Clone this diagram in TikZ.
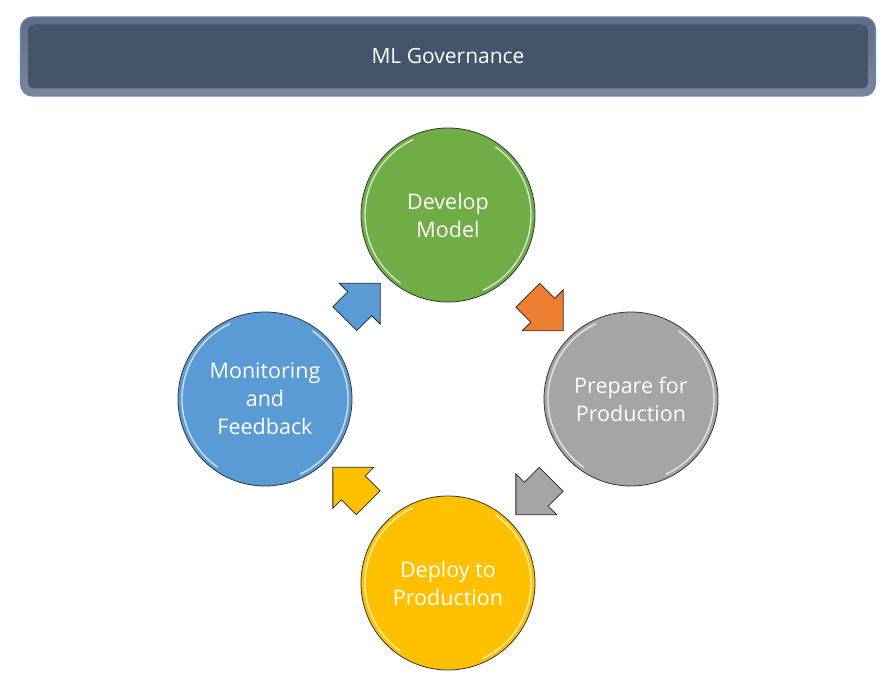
\documentclass[tikz,border=0pt]{standalone}
\usepackage{fontspec}
\setmainfont{Open Sans}
\usepackage{tikz}
\usetikzlibrary{shapes.arrows, calc, positioning}
\definecolor{bandblue}{HTML}{44546A}
\definecolor{bandedge}{HTML}{5E86C8}
\definecolor{devgreen}{HTML}{70AD47}
\definecolor{prepgray}{HTML}{A5A5A5}
\definecolor{deployyellow}{HTML}{FFC000}
\definecolor{monblue}{HTML}{5B9BD5}
\definecolor{steporange}{HTML}{ED7D31}
\tikzset{
    banner/.style={rectangle, rounded corners=12pt, draw=bandedge, line width=1.2pt, top color=bandblue!85!white, bottom color=bandblue!70!white},
    bannerin/.style={rectangle, rounded corners=6pt, fill=bandblue},
    stage/.style={circle, draw=black!80, line width=0.8pt, minimum size=174pt, inner sep=0pt, text=white, align=center, font=\fontsize{21.5}{28}\selectfont},
    cyclearrow/.style={single arrow, draw=black!85, line width=0.8pt, minimum height=50pt, inner xsep=0pt, inner ysep=16.5pt, single arrow head extend=12pt},
    gloss/.style={white, opacity=0.7, line width=1.4pt, line cap=round}
}
\begin{document}
\begin{tikzpicture}[x=1pt, y=1pt]
        \useasboundingbox (0,0) rectangle (895,689);
        % Title band
        \node (band) [banner, minimum width=855pt, minimum height=79pt] at (448, 632.5) {};
        \node (title) [bannerin, minimum width=840pt, minimum height=64pt, text=white, font=\fontsize{21}{26}\selectfont] at (448, 632.5) {ML Governance};

        % Lifecycle stages
        \node (develop) [stage, fill=devgreen] at (448, 474) {Develop\\Model};
        \node (prepare) [stage, fill=prepgray] at (631, 290) {Prepare for\\Production};
        \node (deploy) [stage, fill=deployyellow] at (448, 106) {Deploy to\\Production};
        \node (monitor) [stage, fill=monblue] at (265, 290) {Monitoring\\and\\Feedback};

        % Bevel highlights
        \draw[gloss] ([shift={(115:83)}]develop.center) arc[start angle=115, end angle=235, radius=83]
            ([shift={(-65:83)}]develop.center) arc[start angle=-65, end angle=55, radius=83];
        \draw[gloss] ([shift={(115:83)}]prepare.center) arc[start angle=115, end angle=235, radius=83]
            ([shift={(-65:83)}]prepare.center) arc[start angle=-65, end angle=55, radius=83];
        \draw[gloss] ([shift={(115:83)}]deploy.center) arc[start angle=115, end angle=235, radius=83]
            ([shift={(-65:83)}]deploy.center) arc[start angle=-65, end angle=55, radius=83];
        \draw[gloss] ([shift={(115:83)}]monitor.center) arc[start angle=115, end angle=235, radius=83]
            ([shift={(-65:83)}]monitor.center) arc[start angle=-65, end angle=55, radius=83];

        % Cycle arrows
        \node (dev_prep) [cyclearrow, fill=steporange, rotate=-45] at ($(develop)!0.5!(prepare)$) {};
        \node (prep_dep) [cyclearrow, fill=prepgray, rotate=-135] at ($(prepare)!0.5!(deploy)$) {};
        \node (dep_mon) [cyclearrow, fill=deployyellow, rotate=135] at ($(deploy)!0.5!(monitor)$) {};
        \node (mon_dev) [cyclearrow, fill=monblue, rotate=45] at ($(monitor)!0.5!(develop)$) {};
    \end{tikzpicture}
\end{document}
